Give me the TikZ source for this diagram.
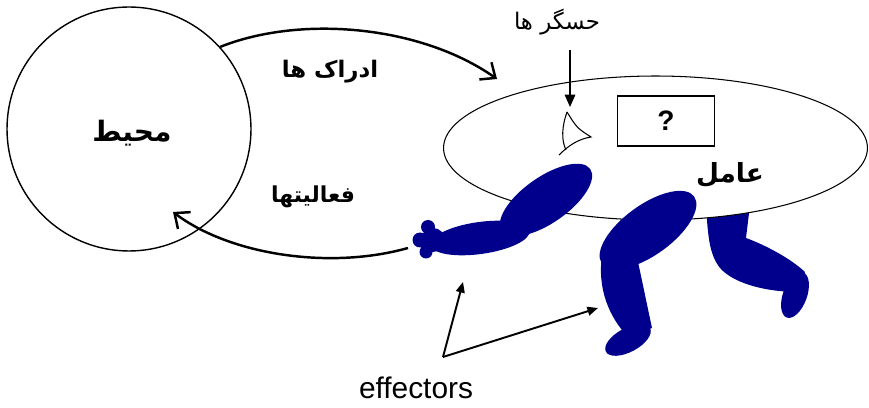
\documentclass[tikz,border=0pt]{standalone}
\usepackage{fontspec}
\setmainfont{Liberation Sans}
\newfontfamily\fafont[Script=Arabic]{DejaVu Sans}
\TeXXeTstate=1
\usepackage{tikz}
\usepackage{xcolor}
\usetikzlibrary{shapes.geometric, arrows.meta}
\definecolor{limbblue}{RGB}{0,0,140}

\begin{document}
\begin{tikzpicture}[x=0.02cm, y=-0.02cm,
        limb/.style={fill=limbblue},
        flow/.style={line width=1.4pt, -{Straight Barb[length=7pt, width=12pt, line width=1.4pt]}},
        pointer/.style={line width=1.1pt, -{Triangle[length=6pt, width=5pt]}},
        bigfa/.style={font=\fafont\bfseries\fontsize{16}{20}\selectfont},
        smallfa/.style={font=\fafont\bfseries\fontsize{12.5}{15}\selectfont}]
    \useasboundingbox (0,0) rectangle (869,408);

    % back leg, half hidden by the body
    \fill[limb] (706,205) -- (750,205) -- (746,238) .. controls (765,245) and (790,258) .. (805,272)
        -- (798,292) .. controls (770,292) and (735,285) .. (720,268)
        .. controls (710,255) and (708,240) .. (706,205) -- cycle;
    \fill[limb, rotate around={70:(795,295)}] (795,295) ellipse [x radius=24, y radius=12];

    \node[circle, draw, line width=0.8pt, minimum size=4.88cm, inner sep=0pt] (env) at (129,129) {};
    \node[ellipse, draw, fill=white, line width=0.6pt, minimum width=8.48cm, minimum height=2.88cm, inner sep=0pt] (agent) at (655.5,148) {};
    \node[draw, line width=0.8pt, minimum width=1.94cm, minimum height=1cm, font=\bfseries\fontsize{16}{19}\selectfont] (mind) at (666,121) {?};

    % sensor
    \draw[line width=0.6pt] (567,112) .. controls (577,128) .. (591,137) .. controls (578,139) and (568,146) .. (559,155);
    \draw[line width=0.6pt] (567,112) .. controls (562,126) and (561,140) .. (566,150);
    \node[font=\fafont\fontsize{13}{16}\selectfont] (sensors) at (557,22) {\beginR حسگر ها\endR};
    \coordinate (eye) at (570,107);
    \draw[line width=0.7pt, -{Triangle[length=7pt, width=6pt]}, shorten <=5pt] (sensors.south -| eye) -- (eye);

    % arm
    \fill[limb, rotate around={35:(546,200)}] (546,200) ellipse [x radius=54, y radius=23];
    \fill[limb, rotate around={8:(480,238)}] (480,238) ellipse [x radius=50, y radius=16];
    \fill[limb] (433,240) circle [radius=12] (428,227) circle [radius=7]
        (420,240) circle [radius=7.5] (426,252) circle [radius=6.5];

    % front leg
    \fill[limb, rotate around={36:(648,230)}] (648,230) ellipse [x radius=57, y radius=25];
    \fill[limb] (602,255) .. controls (597,290) and (610,318) .. (628,337) -- (652,328)
        .. controls (646,300) and (643,285) .. (638,262) -- cycle;
    \fill[limb, rotate around={28:(628,340)}] (628,340) ellipse [x radius=25, y radius=12];

    \node[bigfa] (envname) at (132,133) {\beginR محیط\endR};
    \node[bigfa, font=\fafont\bfseries\fontsize{15}{18}\selectfont] (agentname) at (730,175) {\beginR عامل\endR};
    \node[smallfa, font=\fafont\bfseries\fontsize{13}{16}\selectfont] (percepts) at (330,72) {\beginR ادراک ها\endR};
    \node[smallfa] (actions) at (313,197) {\beginR فعالیتها\endR};

    \coordinate (seen) at (497,79);
    \coordinate (hand) at (408,248);
    \coordinate (acted) at (173,212);
    \draw[flow] (env.42) .. controls (300,15) and (420,25) .. (seen);
    \draw[flow] (hand) .. controls (330,270) and (230,255) .. (acted);

    \node[font=\fontsize{17}{20}\selectfont] (effectors) at (416,388) {effectors};
    \coordinate (fork) at (443,357);
    \coordinate (armtip) at (463,282);
    \coordinate (legtip) at (598,308);
    \draw[pointer] (fork) -- (armtip);
    \draw[pointer] (fork) -- (legtip);
\end{tikzpicture}
\end{document}
